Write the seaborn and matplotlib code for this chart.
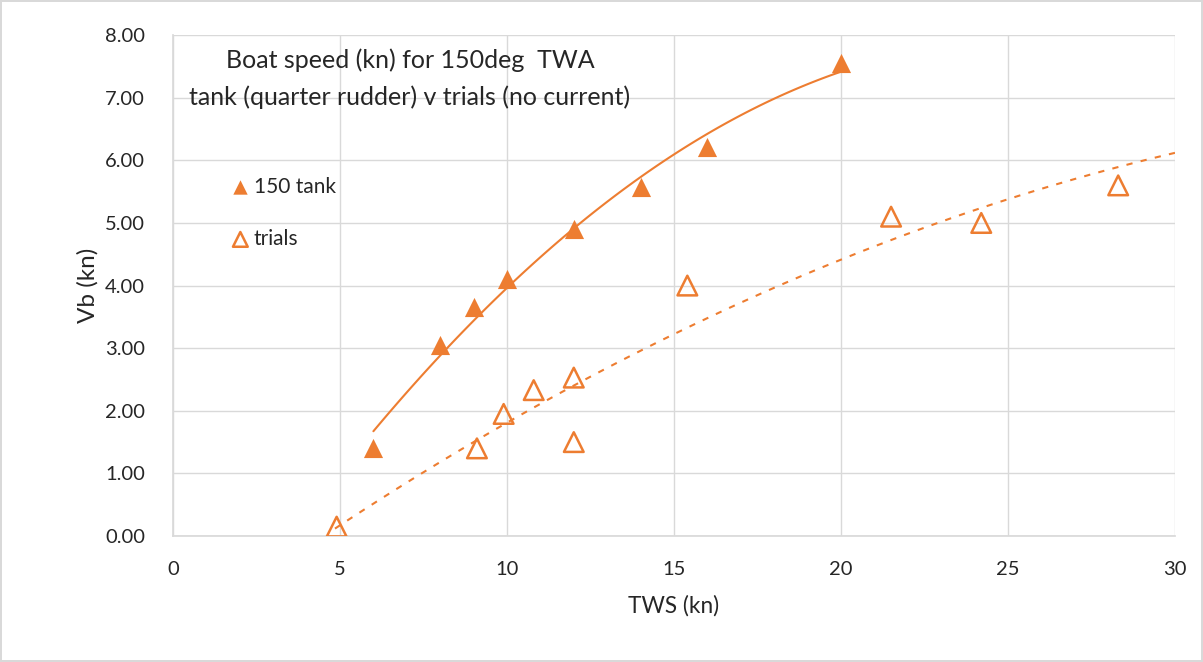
import numpy as np
import pandas as pd
import matplotlib.pyplot as plt
import seaborn as sns

# data
tank_tws = [6, 8, 9, 10, 12, 14, 16, 20]
tank_vb = [1.40, 3.05, 3.65, 4.10, 4.90, 5.57, 6.22, 7.55]
trials_tws = [4.9, 9.1, 9.9, 10.8, 12.0, 12.0, 15.4, 21.5, 24.2, 28.3]
trials_vb = [0.15, 1.40, 1.95, 2.33, 2.53, 1.50, 4.00, 5.10, 5.00, 5.60]
# trials trendline as drawn
trend_tws = [4.85, 10, 14.3, 20, 25, 30]
trend_vb = [0.12, 1.85, 2.95, 4.46, 5.40, 6.10]
x_ticks = [0, 5, 10, 15, 20, 25, 30]
y_ticks = [0, 1, 2, 3, 4, 5, 6, 7, 8]

orange = "#ED7D31"
grid_c = "#d9d9d9"

sns.set_theme(style="white")
plt.rcParams['font.family'] = ['Lato', 'DejaVu Sans']

fig = plt.figure(figsize=(12.03, 6.62), dpi=100, edgecolor=grid_c, linewidth=1.5)
ax = fig.add_axes([0.1438, 0.1903, 0.8329, 0.7567])

# polynomial trendlines (order 2)
tank_fit = np.polyfit(tank_tws, tank_vb, 2)
xs_tank = np.linspace(min(tank_tws), max(tank_tws), 100)
trials_fit = np.polyfit(trend_tws, trend_vb, 2)
xs_trials = np.linspace(min(trend_tws), max(trend_tws), 100)

sns.lineplot(x=xs_tank, y=np.polyval(tank_fit, xs_tank), color=orange, lw=1.5, ax=ax)
sns.lineplot(x=xs_trials, y=np.polyval(trials_fit, xs_trials), color=orange, lw=1.5,
             ax=ax, linestyle=(0, (3, 4)))

sns.scatterplot(x=tank_tws, y=tank_vb, marker="^", s=190, color=orange,
                edgecolor=orange, linewidth=0, ax=ax, label="150 tank", zorder=3)
sns.scatterplot(x=trials_tws, y=trials_vb, marker="^", s=200, facecolor="none",
                edgecolor=orange, linewidth=1.8, ax=ax, label="trials", zorder=3)

ax.set_xlim(0, 30)
ax.set_ylim(0, 8)
ax.set_xticks(x_ticks)
ax.set_yticks(y_ticks)
ax.set_yticklabels([f"{v:.2f}" for v in y_ticks])
ax.tick_params(axis="y", labelsize=14.5, length=0, pad=20)
ax.tick_params(axis="x", labelsize=14.5, length=0, pad=18)
ax.grid(True, color=grid_c, lw=1)
for side in ["top", "right"]:
    ax.spines[side].set_visible(False)
for side in ["left", "bottom"]:
    ax.spines[side].set_color(grid_c)

ax.set_xlabel("TWS (kn)", fontsize=16.3, labelpad=12)
ax.set_ylabel("Vb (kn)", fontsize=17.5, labelpad=5)

ax.text(0.2365, 0.950, "Boat speed (kn) for 150deg  TWA", transform=ax.transAxes,
        ha="center", va="center", fontsize=18)
ax.text(0.2365, 0.876, "tank (quarter rudder) v trials (no current)", transform=ax.transAxes,
        ha="center", va="center", fontsize=18)

ax.legend(loc="upper left", bbox_to_anchor=(0.035, 0.755), frameon=False, fontsize=15,
          labelspacing=1.55, handletextpad=0.0, handlelength=1.3, markerscale=0.75)

fig.savefig("out.png", dpi=100)
